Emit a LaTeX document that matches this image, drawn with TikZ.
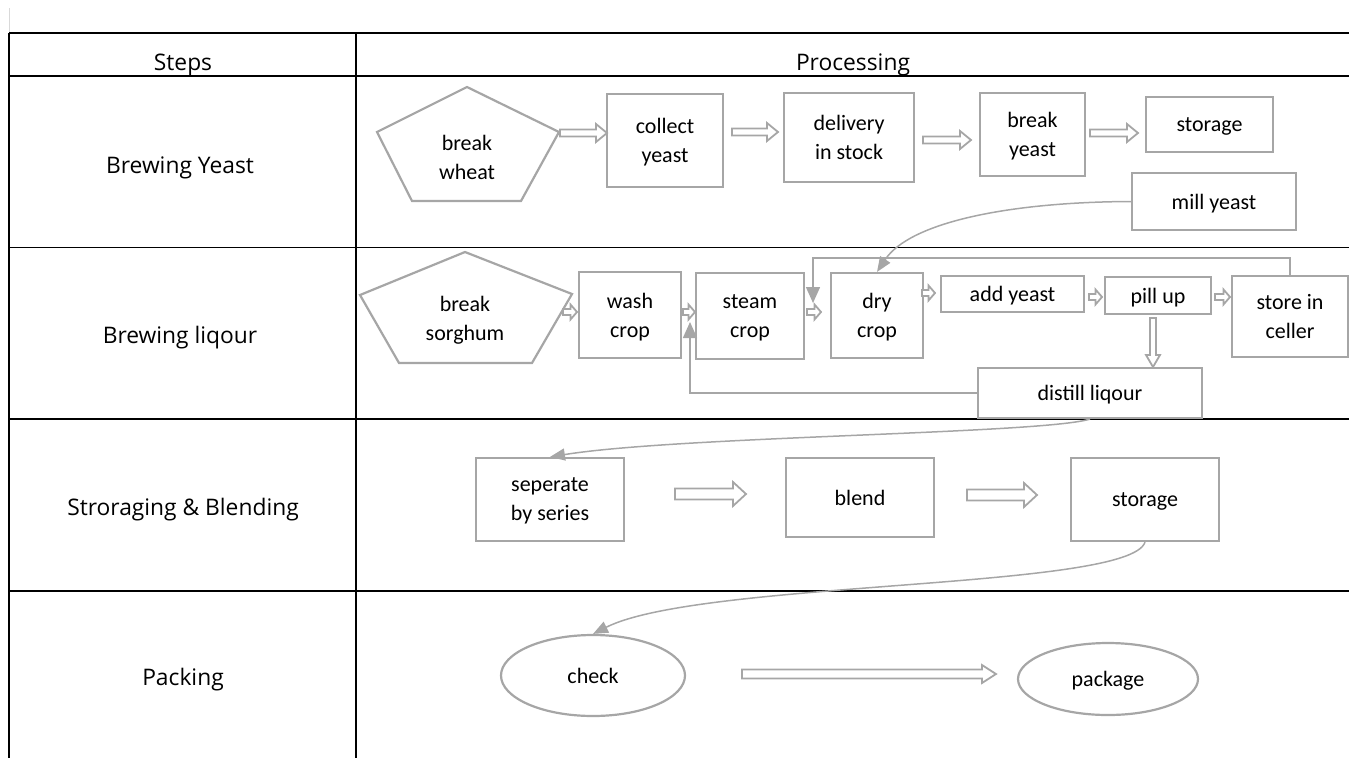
\documentclass[tikz,border=0pt]{standalone}
\usepackage{fontspec}
\setmainfont{Carlito}
\newfontfamily\lblfamily{Open Sans}
\usetikzlibrary{arrows.meta,calc,shapes.geometric}
\definecolor{bgray}{RGB}{166,166,166}
\definecolor{faint}{RGB}{217,217,217}
\newcommand\ndfnt{\fontsize{22}{29}\selectfont}
\newcommand\lblfnt{\lblfamily\fontsize{22.8}{27}\selectfont}
% block arrow: #1 start, #2 length, #3 shaft half width, #4 head half width, #5 head length
\newcommand\blockarr[5]{%
  \begin{scope}[shift={#1}]
    \draw[blockarrow] (0,-#3) -- (#2-#5,-#3) -- (#2-#5,-#4) -- (#2,0) -- (#2-#5,#4) -- (#2-#5,#3) -- (0,#3) -- cycle;
  \end{scope}}
\begin{document}
\begin{tikzpicture}[x=1pt,y=-1pt,
  tbl/.style={line width=1.2pt, black},
  box/.style={draw=bgray, line width=2.2pt, fill=white, rectangle, inner sep=0pt, align=center, font=\ndfnt, text depth=-5pt},
  ovalbox/.style={draw=bgray, line width=2.2pt, fill=white, ellipse, inner sep=0pt, align=center, font=\ndfnt, text depth=-4pt},
  pentline/.style={draw=bgray, line width=2.2pt, fill=white},
  ptext/.style={inner sep=0pt, align=center, font=\ndfnt},
  lbl/.style={inner sep=0pt, font=\lblfnt, anchor=base},
  blockarrow/.style={draw=bgray, line width=1.8pt, fill=white, line join=miter},
  fb/.style={draw=bgray, line width=1.5pt, -{Triangle[length=16pt,width=14pt]}},
  cv/.style={draw=bgray, line width=1.5pt, -{Triangle[length=15pt,width=12pt]}}]
\useasboundingbox (0,0) rectangle (1349,758);

% table
\draw[faint, line width=1pt] (9,8) -- (9,33);
\draw[tbl] (9,33) -- (1349,33);
\draw[tbl] (9,76) -- (1349,76);
\draw[tbl] (9,247.5) -- (1349,247.5);
\draw[tbl] (9,419) -- (1349,419);
\draw[tbl] (9,591) -- (1349,591);
\draw[tbl] (9,33) -- (9,758);
\draw[tbl] (356,33) -- (356,758);

% labels
\node[lbl] (hsteps) at (183,70) {Steps};
\node[lbl] (hproc) at (853,70) {Processing};
\node[lbl] (lyeast) at (180,173) {Brewing Yeast};
\node[lbl] (lliq) at (180,343) {Brewing liqour};
\node[lbl] (lstore) at (183,515) {Stroraging \& Blending};
\node[lbl] (lpack) at (183,685) {Packing};

% row 1
\draw[pentline] (467,87) -- (559,132) -- (521,201) -- (412,201) -- (377,132) -- cycle;
\node[ptext] (bw) at (467,157) {break\\wheat};
\node[box, minimum width=116pt, minimum height=93pt] (cy) at (665,140.5) {collect\\yeast};
\node[box, minimum width=130pt, minimum height=89pt] (dis) at (849,137.5) {delivery\\in stock};
\node[box, minimum width=105pt, minimum height=83pt] (by) at (1032.5,134.5) {break\\yeast};
\node[box, minimum width=127pt, minimum height=55pt] (st1) at (1209.5,124.5) {storage};
\node[box, minimum width=164pt, minimum height=57pt] (mill) at (1214,201.5) {mill yeast};
\blockarr{(560,133)}{47}{3.5}{9}{11}
\blockarr{(732,132)}{46}{3.5}{9}{11}
\blockarr{(923,140)}{48}{3.5}{9}{11}
\blockarr{(1090,133)}{48}{3.5}{9}{11}

% row 2
\draw[pentline] (465,252) -- (572,294) -- (532,363) -- (399,363) -- (360,295) -- cycle;
\node[ptext] (bs) at (465,320) {break\\sorghum};
\node[box, minimum width=102pt, minimum height=86pt] (wash) at (630,315) {wash\\crop};
\node[box, minimum width=108pt, minimum height=86pt] (steam) at (750,316) {steam\\crop};
\node[box, minimum width=92pt, minimum height=85pt] (dry) at (877,315.5) {dry\\crop};
\node[box, minimum width=143pt, minimum height=36pt] (add) at (1012.5,294) {add yeast};
\node[box, minimum width=106pt, minimum height=37pt] (pill) at (1158,295.5) {pill up};
\node[box, minimum width=116pt, minimum height=81pt] (store) at (1290,316.5) {store in\\celler};
\node[box, minimum width=224pt, minimum height=50pt] (distill) at (1090,393) {distill liqour};
\blockarr{(563,312)}{14}{3}{7.5}{6.5}
\blockarr{(683,312)}{12}{3}{7.5}{6.5}
\blockarr{(807,312)}{14}{3}{7.5}{6.5}
\blockarr{(922,293)}{13}{3}{7.5}{6.5}
\blockarr{(1089,297)}{13}{3}{7.5}{6.5}
\blockarr{(1215,297)}{15}{3}{7.5}{6.5}
\draw[blockarrow] (1150,318) -- (1156,318) -- (1156,355) -- (1160,355) -- (1153,367) -- (1146,355) -- (1150,355) -- cycle;

\coordinate (fbt) at (813,303);
\draw[fb] (store.north) -- ++(0,-17) -| (fbt);
\coordinate (fbb) at (690,322);
\draw[fb] (distill.west) -| (fbb);
\draw[cv] (mill.west) .. controls (1010,202) and (910,222) .. (dry.north);

% row 3
\node[box, minimum width=148pt, minimum height=83pt] (sep) at (550,499.5) {seperate\\by series};
\node[box, minimum width=148pt, minimum height=79pt] (blend) at (860,497.5) {blend};
\node[box, minimum width=148pt, minimum height=83pt] (st3) at (1145,499.5) {storage};
\blockarr{(675,494)}{71}{5.5}{12}{13}
\blockarr{(967,495)}{70}{5.5}{12}{13}
\draw[cv] (distill.south) .. controls (1040,434) and (680,436) .. (sep.north);

% row 4
\node[ovalbox, minimum width=184pt, minimum height=81pt] (check) at (593,675.5) {check};
\node[ovalbox, minimum width=180pt, minimum height=72pt] (package) at (1108,679) {package};
\blockarr{(742,674)}{254}{4.5}{9}{14}
\draw[cv] (st3.south) .. controls (1130,590) and (700,580) .. (check.north);
\end{tikzpicture}
\end{document}
